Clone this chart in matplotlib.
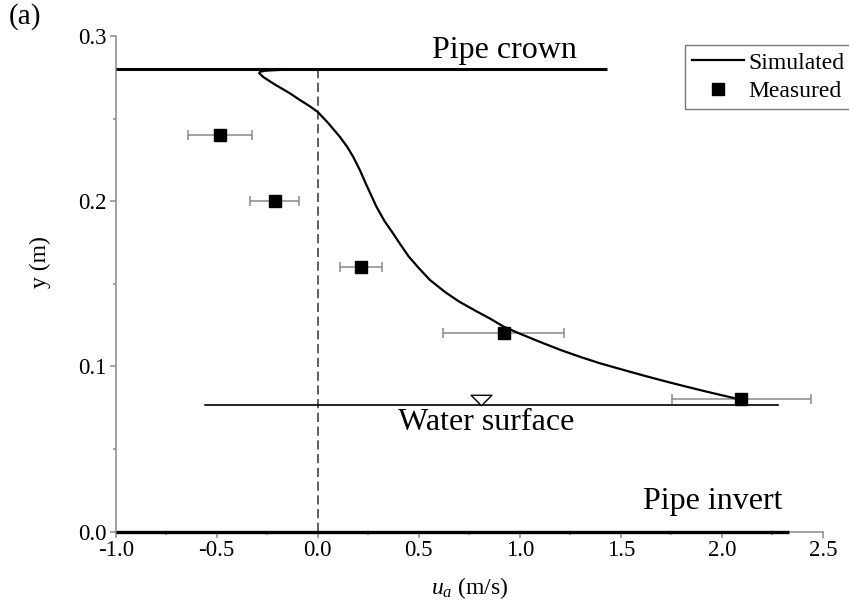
import matplotlib
matplotlib.use("Agg")
import matplotlib.pyplot as plt
import matplotlib.transforms as mtransforms
from matplotlib.path import Path
from matplotlib.ticker import MultipleLocator, FormatStrFormatter

# ---- data ----
sim_x = [-0.12, -0.20, -0.26, -0.285, -0.29, -0.27, -0.22, -0.138, -0.089, -0.04, 0.00, 0.05,
         0.109, 0.145, 0.175, 0.208, 0.24, 0.29, 0.33, 0.372, 0.405, 0.45, 0.50, 0.555, 0.63,
         0.70, 0.78, 0.85, 0.921, 1.00, 1.10, 1.20, 1.30, 1.396, 1.50, 1.62, 1.75, 1.891,
         1.98, 2.064, 2.092]
sim_y = [0.2797, 0.2794, 0.2790, 0.2784, 0.2775, 0.2752, 0.2712, 0.2653, 0.2613, 0.2575, 0.2540, 0.2475,
         0.2390, 0.2330, 0.2269, 0.2189, 0.2100, 0.1967, 0.1880, 0.1806, 0.1745, 0.1665, 0.1595, 0.1523, 0.1450,
         0.1392, 0.1337, 0.1291, 0.1240, 0.1198, 0.1148, 0.1100, 0.1057, 0.1019, 0.0983, 0.0942, 0.0900, 0.0857,
         0.0831, 0.0807, 0.0800]

meas_x = [-0.486, -0.214, 0.214, 0.921, 2.092]
meas_y = [0.24, 0.20, 0.16, 0.12, 0.08]
meas_lo = [-0.644, -0.334, 0.109, 0.621, 1.753]
meas_hi = [-0.326, -0.092, 0.320, 1.220, 2.440]

crown_y = 0.28
crown_x = [-1.0, 1.43]
invert_y = 0.0
invert_x = [-1.0, 2.33]
water_y = 0.0764
water_x = [-0.56, 2.275]
water_marker_x = 0.809

x_ticks = [-1.0, -0.5, 0.0, 0.5, 1.0, 1.5, 2.0, 2.5]
y_ticks = [0.0, 0.1, 0.2, 0.3]

plt.rcParams['font.family'] = ['Liberation Serif', 'DejaVu Serif']
plt.rcParams['mathtext.fontset'] = 'custom'
plt.rcParams['mathtext.rm'] = 'Liberation Serif'
plt.rcParams['mathtext.it'] = 'Liberation Serif:italic'
plt.rcParams['axes.unicode_minus'] = False

W, H = 849, 613
fig = plt.figure(figsize=(W/100, H/100), dpi=100)
ax_l, ax_r, ax_t, ax_b = 115.7, 823.0, 36.0, 531.6
ax = fig.add_axes([ax_l/W, 1-ax_b/H, (ax_r-ax_l)/W, (ax_b-ax_t)/H])

gray = '#8a8a8a'

# reference lines
ax.plot(crown_x, [crown_y, crown_y], color='black', lw=2.2, solid_capstyle='butt', zorder=3)
ax.plot(invert_x, [invert_y, invert_y], color='black', lw=2.4, solid_capstyle='butt', zorder=3, clip_on=False)
ax.plot(water_x, [water_y, water_y], color='black', lw=1.2, zorder=3)
ax.plot([0, 0], [0, crown_y], color='#333333', lw=1.1, ls=(0, (6, 3)), zorder=2)

# water-surface triangle symbol
tri = Path([(-1, 0.5), (1, 0.5), (0, -0.5), (-1, 0.5)],
           [Path.MOVETO, Path.LINETO, Path.LINETO, Path.CLOSEPOLY])
tr = mtransforms.offset_copy(ax.transData, fig=fig, x=0, y=5.5, units='dots')
ax.plot([water_marker_x], [water_y], marker=tri, ms=15, mfc='white', mec='black',
        mew=1.0, ls='none', transform=tr, zorder=4)

# simulated
ax.plot(sim_x, sim_y, color='black', lw=1.6, zorder=4, label='Simulated',
        solid_joinstyle='round')

# measured
xerr = [[m - l for m, l in zip(meas_x, meas_lo)], [h - m for m, h in zip(meas_x, meas_hi)]]
ax.errorbar(meas_x, meas_y, xerr=xerr, fmt='none', ecolor=gray, elinewidth=1.1,
            capsize=3.3, capthick=1.1, zorder=3)
ax.plot(meas_x, meas_y, 's', color='black', ms=8, ls='none', zorder=5, label='Measured')

# texts
ax.text(0.924, 0.2915, 'Pipe crown', ha='center', va='center', fontsize=23)
ax.text(0.832, 0.066, 'Water surface', ha='center', va='center', fontsize=23)
ax.text(1.953, 0.0185, 'Pipe invert', ha='center', va='center', fontsize=23)

ax.set_xlim(-1.0, 2.5)
ax.set_ylim(0.0, 0.3)
ax.set_xticks(x_ticks)
ax.set_yticks(y_ticks)
ax.xaxis.set_major_formatter(FormatStrFormatter('%.1f'))
ax.yaxis.set_major_formatter(FormatStrFormatter('%.1f'))
ax.xaxis.set_minor_locator(MultipleLocator(0.25))
ax.yaxis.set_minor_locator(MultipleLocator(0.05))
for s in ['top', 'right']:
    ax.spines[s].set_visible(False)
for s in ['left', 'bottom']:
    ax.spines[s].set_color(gray)
    ax.spines[s].set_linewidth(1.1)
ax.tick_params(which='major', direction='out', length=4, width=1.1, color=gray,
               labelsize=16.5, labelcolor='black')
ax.tick_params(axis='x', which='major', pad=2)
ax.tick_params(axis='y', which='major', pad=2.5)
ax.tick_params(which='minor', direction='out', length=2.5, width=1.1, color=gray)

fig.text(470/W, 1-588/H, r'$u_a$ (m/s)', ha='center', va='center', fontsize=17)
fig.text(40/W, 1-262/H, 'y (m)', ha='center', va='center', rotation=90, fontsize=17)
fig.text(25/W, 1-17/H, '(a)', ha='center', va='center', fontsize=21)

leg_h = 0.12
leg = fig.legend(loc='upper left', bbox_to_anchor=(685/W, 1-45/H-leg_h, 190/W, leg_h),
                 bbox_transform=fig.transFigure, borderaxespad=0, fancybox=False, mode='expand',
                 fontsize=17, handlelength=2.2, handletextpad=0.2, borderpad=0.3,
                 labelspacing=0.3, framealpha=1)
leg.get_frame().set_edgecolor('#777777')
leg.get_frame().set_linewidth(1.0)

fig.savefig('out.png', dpi=100)
